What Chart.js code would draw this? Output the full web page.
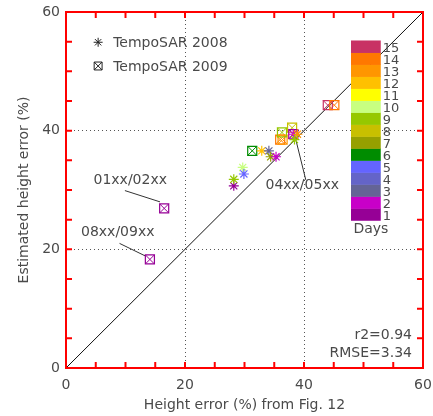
<!DOCTYPE html>
<html>
<head>
<meta charset="utf-8">
<script src="https://cdn.jsdelivr.net/npm/chart.js@4.4.1/dist/chart.umd.min.js"></script>
<style>
  html, body { margin: 0; padding: 0; background: #fff; }
  #wrap { width: 433px; height: 416px; }
</style>
</head>
<body>
<div id="wrap"><canvas id="chart" width="433" height="416"></canvas></div>
<script>
// day scale, day 1 first
const days = [1, 2, 3, 4, 5, 6, 7, 8, 9, 10, 11, 12, 13, 14, 15];
const dayColors = ['#960096', '#c800c8', '#646496', '#6464c8', '#6464ff',
                   '#008c00', '#96a000', '#c8c000', '#96c800', '#c8ff80',
                   '#ffff00', '#ffc000', '#ff9600', '#ff7800', '#c83264'];

// TempoSAR 2008 (asterisks)
const x2008   = [28.2, 28.2, 29.7, 29.9, 32.9, 34.1, 34.4, 35.3, 38.2, 38.9, 38.4];
const y2008   = [30.7, 31.8, 33.8, 32.7, 36.6, 36.6, 35.6, 35.6, 39.4, 39.4, 38.5];
const day2008 = [1, 9, 10, 5, 12, 3, 7, 2, 2, 13, 9];

// TempoSAR 2009 (crossed boxes)
const x2009   = [16.5, 14.1, 31.3, 36.0, 36.4, 36.3, 38.0, 38.2, 44.0, 45.1];
const y2009   = [26.9, 18.3, 36.6, 38.5, 38.5, 39.7, 40.5, 39.4, 44.3, 44.3];
const day2009 = [1, 1, 6, 14, 13, 9, 8, 1, 15, 14];

const axisTicks = [0, 20, 40, 60];
const fitStats = ['r2=0.94', 'RMSE=3.34'];

// callout text and leader lines, in data units
const callouts = [
  { text: '01xx/02xx', at: [10.8, 31.6], line: [[9.9, 29.9], [15.8, 28.0]] },
  { text: '08xx/09xx', at: [8.7, 22.8],  line: [[9.0, 21.0], [13.3, 18.9]] },
  { text: '04xx/05xx', at: [39.7, 30.7], line: [[40.3, 31.7], [38.5, 39.0]] }
];

const FONT = '"DejaVu Sans", sans-serif';
const INK = '#4a4a4a';

const pts = (xs, ys) => xs.map((x, i) => ({ x: x, y: ys[i] }));
const colorsFor = ds => ds.map(d => dayColors[days.indexOf(d)]);

const datasets = [
  // 1:1 line
  { type: 'line', data: [{ x: 0, y: 0 }, { x: 60, y: 60 }], borderColor: '#111',
    borderWidth: 1, pointRadius: 0, order: 5 }
];
callouts.forEach(c => {
  datasets.push({ type: 'line', data: c.line.map(p => ({ x: p[0], y: p[1] })),
    borderColor: '#333', borderWidth: 1, pointRadius: 0, order: 5 });
});
datasets.push({
  label: 'TempoSAR 2008', data: pts(x2008, y2008), pointStyle: 'star',
  pointRadius: 5, pointBorderWidth: 1.2, pointBorderColor: colorsFor(day2008),
  pointBackgroundColor: 'transparent', order: 1
});
datasets.push({
  label: 'TempoSAR 2009', data: pts(x2009, y2009), pointStyle: 'rect',
  pointRadius: 6.4, pointBorderWidth: 1.2, pointBorderColor: colorsFor(day2009),
  pointBackgroundColor: 'transparent', order: 2
});
datasets.push({
  label: 'TempoSAR 2009 x', data: pts(x2009, y2009), pointStyle: 'crossRot',
  pointRadius: 6.4, pointBorderWidth: 1, pointBorderColor: colorsFor(day2009),
  pointBackgroundColor: 'transparent', order: 2
});

// colour bar, legend, text, frame and inward ticks
const decorations = {
  id: 'decorations',
  afterDraw(chart) {
    const { ctx, chartArea: a, scales: { x, y } } = chart;
    ctx.save();
    ctx.setLineDash([]);

    // colour bar for days
    const bx0 = x.getPixelForValue(47.9), bx1 = x.getPixelForValue(52.9);
    const yBot = 24.9, step = 2.02;
    days.forEach((d, i) => {
      const top = y.getPixelForValue(yBot + step * (i + 1));
      const bot = y.getPixelForValue(yBot + step * i);
      ctx.fillStyle = dayColors[i];
      ctx.fillRect(bx0, top, bx1 - bx0, bot - top + 0.5);
      ctx.fillStyle = INK;
      ctx.font = '13px ' + FONT;
      ctx.textAlign = 'left';
      ctx.textBaseline = 'middle';
      ctx.fillText(String(d), bx1 + 2, (top + bot) / 2 + 2.5);
    });
    ctx.font = '14px ' + FONT;
    ctx.textAlign = 'center';
    ctx.fillText('Days', (bx0 + bx1) / 2 + 5, y.getPixelForValue(yBot) + 9);

    // legend
    const lx = x.getPixelForValue(5.4);
    const legendRows = [
      { label: 'TempoSAR 2008', styles: [['star', 4.5]], yv: 54.9 },
      { label: 'TempoSAR 2009', styles: [['rect', 5.6], ['crossRot', 5.6]], yv: 50.9 }
    ];
    legendRows.forEach(r => {
      const ly = y.getPixelForValue(r.yv);
      r.styles.forEach(s => {
        ctx.strokeStyle = '#222';
        ctx.fillStyle = 'rgba(0,0,0,0)';
        ctx.lineWidth = 1;
        Chart.helpers.drawPoint(ctx, { pointStyle: s[0], radius: s[1], rotation: 0, borderWidth: 1 }, lx, ly);
      });
      ctx.fillStyle = INK;
      ctx.font = '14px ' + FONT;
      ctx.textAlign = 'left';
      ctx.textBaseline = 'middle';
      ctx.fillText(r.label, lx + 15, ly + 1);
    });

    // callout text
    callouts.forEach(c => {
      ctx.fillStyle = INK;
      ctx.font = '14px ' + FONT;
      ctx.textAlign = 'center';
      ctx.textBaseline = 'middle';
      ctx.fillText(c.text, x.getPixelForValue(c.at[0]), y.getPixelForValue(c.at[1]));
    });

    // fit statistics
    ctx.textAlign = 'right';
    ctx.fillText(fitStats[0], a.right - 11, a.bottom - 33);
    ctx.fillText(fitStats[1], a.right - 11, a.bottom - 15);

    // frame and inward ticks every 5 units
    ctx.strokeStyle = '#ff0000';
    ctx.lineWidth = 2;
    ctx.strokeRect(a.left, a.top, a.right - a.left, a.bottom - a.top);
    ctx.beginPath();
    for (let v = 5; v < 60; v += 5) {
      const px = x.getPixelForValue(v);
      const py = y.getPixelForValue(v);
      ctx.moveTo(px, a.bottom); ctx.lineTo(px, a.bottom - 6);
      ctx.moveTo(px, a.top); ctx.lineTo(px, a.top + 6);
      ctx.moveTo(a.left, py); ctx.lineTo(a.left + 6, py);
      ctx.moveTo(a.right, py); ctx.lineTo(a.right - 6, py);
    }
    ctx.stroke();

    ctx.restore();
  }
};

const gridColor = c => (c.tick.value === 20 || c.tick.value === 40) ? '#555' : 'rgba(0,0,0,0)';

new Chart(document.getElementById('chart'), {
  type: 'scatter',
  data: { datasets: datasets },
  options: {
    responsive: false,
    animation: false,
    devicePixelRatio: 1,
    layout: { padding: { top: 12, right: 10, left: 0, bottom: 0 } },
    plugins: { legend: { display: false }, tooltip: { enabled: false } },
    scales: {
      x: {
        type: 'linear', min: 0, max: 60,
        afterBuildTicks: s => { s.ticks = axisTicks.map(v => ({ value: v })); },
        afterFit: s => { s.height = 48; s.paddingLeft = 0; s.paddingRight = 0; },
        border: { display: false, dash: [1, 3] },
        grid: { color: gridColor, drawTicks: false, lineWidth: 1 },
        ticks: { color: INK, font: { family: FONT, size: 14 }, padding: 9, maxRotation: 0 },
        title: { display: true, text: 'Height error (%) from Fig. 12', color: INK,
                 font: { family: FONT, size: 14 }, padding: { top: 0, bottom: 2.5 } }
      },
      y: {
        type: 'linear', min: 0, max: 60,
        afterBuildTicks: s => { s.ticks = axisTicks.map(v => ({ value: v })); },
        afterFit: s => { s.width = 66; s.paddingTop = 0; s.paddingBottom = 0; },
        border: { display: false, dash: [1, 3] },
        grid: { color: gridColor, drawTicks: false, lineWidth: 1 },
        ticks: { color: INK, font: { family: FONT, size: 14 }, padding: 6 },
        title: { display: true, text: 'Estimated height error (%)', color: INK,
                 font: { family: FONT, size: 14 }, padding: { top: 15.5, bottom: 0 } }
      }
    }
  },
  plugins: [decorations]
});
</script>
</body>
</html>
